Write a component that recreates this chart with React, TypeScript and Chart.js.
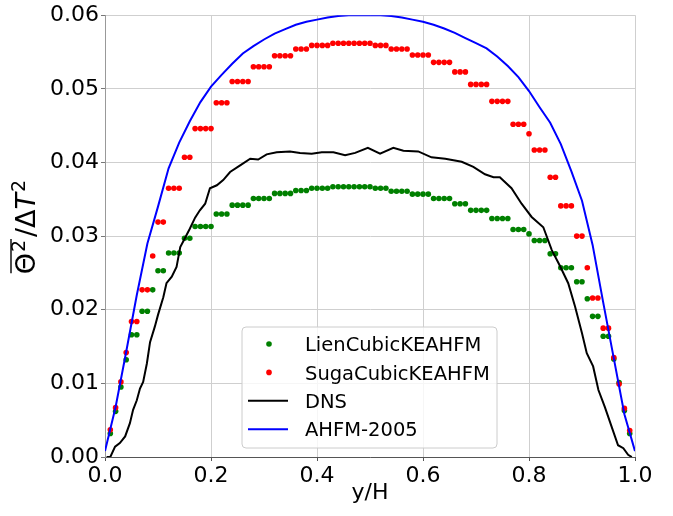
import React, { useEffect, useRef } from "react";
import { Chart, registerables } from "chart.js";

Chart.register(...registerables);

const FONT = "DejaVu Sans";

// Series labels
const seriesLabels = ["LienCubicKEAHFM", "SugaCubicKEAHFM", "DNS", "AHFM-2005"];

// y/H positions of the model dots
const dotX = [
  0.01, 0.02, 0.03, 0.04, 0.05, 0.06, 0.07, 0.08, 0.09, 0.1,
  0.11, 0.12, 0.13, 0.14, 0.15, 0.16, 0.17, 0.18, 0.19, 0.2,
  0.21, 0.22, 0.23, 0.24, 0.25, 0.26, 0.27, 0.28, 0.29, 0.3,
  0.31, 0.32, 0.33, 0.34, 0.35, 0.36, 0.37, 0.38, 0.39, 0.4,
  0.41, 0.42, 0.43, 0.44, 0.45, 0.46, 0.47, 0.48, 0.49, 0.5,
  0.51, 0.52, 0.53, 0.54, 0.55, 0.56, 0.57, 0.58, 0.59, 0.6,
  0.61, 0.62, 0.63, 0.64, 0.65, 0.66, 0.67, 0.68, 0.69, 0.7,
  0.71, 0.72, 0.73, 0.74, 0.75, 0.76, 0.77, 0.78, 0.79, 0.8,
  0.81, 0.82, 0.83, 0.84, 0.85, 0.86, 0.87, 0.88, 0.89, 0.9,
  0.91, 0.92, 0.93, 0.94, 0.95, 0.96, 0.97, 0.98, 0.99,
];

const lienValues = [
  0.0032, 0.0062, 0.0095, 0.0132, 0.0166, 0.0166, 0.0198, 0.0198, 0.0227, 0.0253,
  0.0253, 0.0277, 0.0277, 0.0277, 0.0297, 0.0297, 0.0313, 0.0313, 0.0313, 0.0313,
  0.033, 0.033, 0.033, 0.0342, 0.0342, 0.0342, 0.0342, 0.0351, 0.0351, 0.0351,
  0.0351, 0.0358, 0.0358, 0.0358, 0.0358, 0.0362, 0.0362, 0.0362, 0.0365, 0.0365,
  0.0365, 0.0365, 0.0367, 0.0367, 0.0367, 0.0367, 0.0367, 0.0367, 0.0367, 0.0367,
  0.0365, 0.0365, 0.0365, 0.0361, 0.0361, 0.0361, 0.0361, 0.0357, 0.0357, 0.0357,
  0.0357, 0.0351, 0.0351, 0.0351, 0.0351, 0.0344, 0.0344, 0.0344, 0.0335, 0.0335,
  0.0335, 0.0335, 0.0324, 0.0324, 0.0324, 0.0324, 0.0309, 0.0309, 0.0309, 0.0303,
  0.0294, 0.0294, 0.0294, 0.0276, 0.0276, 0.0257, 0.0257, 0.0257, 0.0238, 0.0238,
  0.0215, 0.0191, 0.0191, 0.0164, 0.0164, 0.0133, 0.0101, 0.0063, 0.0032,
];

const sugaValues = [
  0.0037, 0.0067, 0.0102, 0.0142, 0.0184, 0.0184, 0.0227, 0.0227, 0.0273, 0.0319,
  0.0319, 0.0365, 0.0365, 0.0365, 0.0407, 0.0407, 0.0446, 0.0446, 0.0446, 0.0446,
  0.0481, 0.0481, 0.0481, 0.051, 0.051, 0.051, 0.051, 0.053, 0.053, 0.053,
  0.053, 0.0545, 0.0545, 0.0545, 0.0545, 0.0554, 0.0554, 0.0554, 0.0559, 0.0559,
  0.0559, 0.0559, 0.0562, 0.0562, 0.0562, 0.0562, 0.0562, 0.0562, 0.0562, 0.0562,
  0.0559, 0.0559, 0.0559, 0.0554, 0.0554, 0.0554, 0.0554, 0.0546, 0.0546, 0.0546,
  0.0546, 0.0536, 0.0536, 0.0536, 0.0536, 0.0523, 0.0523, 0.0523, 0.0506, 0.0506,
  0.0506, 0.0506, 0.0483, 0.0483, 0.0483, 0.0483, 0.0452, 0.0452, 0.0452, 0.0439,
  0.0417, 0.0417, 0.0417, 0.038, 0.038, 0.0341, 0.0341, 0.0341, 0.03, 0.03,
  0.0257, 0.0216, 0.0216, 0.0175, 0.0175, 0.0135, 0.0099, 0.0066, 0.0036,
];

// DNS line
const dnsX = [
  0.003, 0.01, 0.019, 0.028, 0.038, 0.047, 0.053, 0.06, 0.066, 0.072,
  0.079, 0.085, 0.094, 0.1, 0.11, 0.116, 0.126, 0.135, 0.142, 0.15,
  0.16, 0.17, 0.179, 0.189, 0.198, 0.211, 0.223, 0.236, 0.255, 0.274,
  0.289, 0.305, 0.324, 0.349, 0.368, 0.39, 0.409, 0.431, 0.453, 0.472,
  0.496, 0.519, 0.544, 0.563, 0.591, 0.616, 0.642, 0.673, 0.695, 0.717,
  0.733, 0.745, 0.767, 0.786, 0.805, 0.827, 0.843, 0.858, 0.874, 0.887,
  0.9, 0.909, 0.921, 0.931, 0.943, 0.956, 0.968, 0.978, 0.987, 0.994,
];
const dnsValues = [
  0.0, 0.0, 0.0014, 0.0019, 0.0028, 0.0046, 0.0064, 0.0077, 0.0093, 0.0102,
  0.0127, 0.0156, 0.0177, 0.0193, 0.0217, 0.0236, 0.0245, 0.0258, 0.0285, 0.0296,
  0.031, 0.0325, 0.0335, 0.0344, 0.0365, 0.0369, 0.0376, 0.0387, 0.0396, 0.0405,
  0.0404, 0.0411, 0.0414, 0.0415, 0.0413, 0.0412, 0.0414, 0.0414, 0.041, 0.0413,
  0.042, 0.0412, 0.042, 0.0416, 0.0415, 0.0407, 0.0405, 0.0401, 0.0394, 0.0384,
  0.038, 0.038, 0.0365, 0.0344, 0.0326, 0.0312, 0.0281, 0.026, 0.0236, 0.0204,
  0.0168, 0.0141, 0.0123, 0.0091, 0.0068, 0.0041, 0.0016, 0.0012, 0.0003, 0.0,
];

// AHFM-2005 line
const ahfmX = [
  0.0, 0.02, 0.04, 0.06, 0.08, 0.1, 0.12, 0.14, 0.16, 0.18,
  0.2, 0.22, 0.24, 0.26, 0.28, 0.3, 0.32, 0.34, 0.36, 0.38,
  0.4, 0.42, 0.44, 0.46, 0.48, 0.5, 0.52, 0.54, 0.56, 0.58,
  0.6, 0.62, 0.64, 0.66, 0.68, 0.7, 0.72, 0.74, 0.76, 0.78,
  0.8, 0.82, 0.84, 0.86, 0.88, 0.9, 0.92, 0.94, 0.96, 0.98, 1.0,
];
const ahfmValues = [
  0.0008, 0.0068, 0.0143, 0.022, 0.029, 0.034, 0.0392, 0.0427, 0.0456, 0.0482,
  0.0503, 0.0519, 0.0534, 0.0548, 0.0558, 0.0567, 0.0575, 0.0581, 0.0587, 0.0591,
  0.0594, 0.0597, 0.0599, 0.06, 0.06, 0.06, 0.06, 0.0599, 0.0597, 0.0594,
  0.0591, 0.0587, 0.0582, 0.0576, 0.0569, 0.0562, 0.0555, 0.0544, 0.0531, 0.0516,
  0.0497, 0.0475, 0.0454, 0.0425, 0.0388, 0.0348, 0.0288, 0.021, 0.0134, 0.0058, 0.0008,
];

const pairs = (xs: number[], ys: number[]) => xs.map((x, i) => ({ x, y: ys[i] }));

const yTitlePlugin = {
  id: "yTitleMath",
  afterDraw(chart: any) {
    const ctx = chart.ctx as CanvasRenderingContext2D;
    const fs = 27;
    const sfs = 19;
    const cx = 35;
    const cy = (chart.chartArea.top + chart.chartArea.bottom) / 2 - 9;
    ctx.save();
    ctx.fillStyle = "#000";
    ctx.strokeStyle = "#000";
    ctx.textBaseline = "alphabetic";
    ctx.textAlign = "left";
    const main = `${fs}px "${FONT}"`;
    const sup = `${sfs}px "${FONT}"`;
    const ital = `italic ${fs}px "${FONT}"`;
    ctx.font = main;
    const wTheta = ctx.measureText("Θ").width;
    ctx.font = sup;
    const wSup = ctx.measureText("2").width;
    ctx.font = main;
    const wSlash = ctx.measureText("/").width;
    const wDelta = ctx.measureText("Δ").width;
    ctx.font = ital;
    const wT = ctx.measureText("T").width;
    const total = wTheta + 1 + wSup + 3 + wSlash + wDelta + wT + 1 + wSup;
    ctx.translate(cx, cy);
    ctx.rotate(-Math.PI / 2);
    let u = -total / 2;
    const u0 = u;
    ctx.font = main;
    ctx.fillText("Θ", u, 0);
    u += wTheta + 1;
    ctx.font = sup;
    ctx.fillText("2", u, -10);
    u += wSup;
    ctx.lineWidth = 1.4;
    ctx.beginPath();
    ctx.moveTo(u0 + 1, -24);
    ctx.lineTo(u + 1, -24);
    ctx.stroke();
    u += 3;
    ctx.font = main;
    ctx.fillText("/", u, 0);
    u += wSlash;
    ctx.fillText("Δ", u, 0);
    u += wDelta;
    ctx.font = ital;
    ctx.fillText("T", u, 0);
    u += wT + 1;
    ctx.font = sup;
    ctx.fillText("2", u, -10);
    ctx.restore();
  },
};

const legendPlugin = {
  id: "insideLegend",
  afterDraw(chart: any) {
    const ctx = chart.ctx as CanvasRenderingContext2D;
    const ds = chart.data.datasets;
    const bx = 242, by = 327, bw = 255, bh = 121, r = 4;
    ctx.save();
    ctx.beginPath();
    ctx.moveTo(bx + r, by);
    ctx.lineTo(bx + bw - r, by);
    ctx.arcTo(bx + bw, by, bx + bw, by + r, r);
    ctx.lineTo(bx + bw, by + bh - r);
    ctx.arcTo(bx + bw, by + bh, bx + bw - r, by + bh, r);
    ctx.lineTo(bx + r, by + bh);
    ctx.arcTo(bx, by + bh, bx, by + bh - r, r);
    ctx.lineTo(bx, by + r);
    ctx.arcTo(bx, by, bx + r, by, r);
    ctx.closePath();
    ctx.fillStyle = "rgba(255,255,255,0.8)";
    ctx.fill();
    ctx.strokeStyle = "#cccccc";
    ctx.lineWidth = 1;
    ctx.stroke();
    const fs = 19.5;
    ctx.font = `${fs}px "${FONT}"`;
    ctx.textBaseline = "alphabetic";
    ctx.textAlign = "left";
    const rowStart = 344;
    const rowGap = 28.4;
    ds.forEach((d: any, i: number) => {
      const yc = rowStart + i * rowGap;
      if (d.showLine) {
        ctx.strokeStyle = d.borderColor;
        ctx.lineWidth = d.borderWidth;
        ctx.beginPath();
        ctx.moveTo(248, yc);
        ctx.lineTo(288, yc);
        ctx.stroke();
      } else {
        ctx.fillStyle = d.backgroundColor;
        ctx.beginPath();
        ctx.arc(269, yc, d.pointRadius, 0, Math.PI * 2);
        ctx.fill();
      }
      ctx.fillStyle = "#000";
      ctx.fillText(d.label, 305, yc + 0.729 * fs / 2);
    });
    ctx.restore();
  },
};

export default function App() {
  const ref = useRef<HTMLCanvasElement | null>(null);
  useEffect(() => {
    if (!ref.current) return;
    const tickFont = { family: FONT, size: 22 };
    const chart = new Chart(ref.current, {
      type: "scatter",
      data: {
        datasets: [
          {
            label: seriesLabels[0],
            data: pairs(dotX, lienValues),
            showLine: false,
            pointRadius: 2.8,
            pointHoverRadius: 2.8,
            backgroundColor: "#008000",
            borderWidth: 0,
            order: 4,
          },
          {
            label: seriesLabels[1],
            data: pairs(dotX, sugaValues),
            showLine: false,
            pointRadius: 2.8,
            pointHoverRadius: 2.8,
            backgroundColor: "#ff0000",
            borderWidth: 0,
            order: 3,
          },
          {
            label: seriesLabels[2],
            data: pairs(dnsX, dnsValues),
            showLine: true,
            pointRadius: 0,
            borderColor: "#000000",
            backgroundColor: "#000000",
            borderWidth: 2,
            tension: 0,
            order: 2,
          },
          {
            label: seriesLabels[3],
            data: pairs(ahfmX, ahfmValues),
            showLine: true,
            pointRadius: 0,
            borderColor: "#0000ff",
            backgroundColor: "#0000ff",
            borderWidth: 2,
            tension: 0,
            order: 1,
          },
        ] as any,
      },
      options: {
        animation: false,
        responsive: false,
        maintainAspectRatio: false,
        devicePixelRatio: 1,
        layout: { padding: { left: 0, right: 38, top: 15, bottom: 0 } },
        plugins: {
          legend: { display: false },
          tooltip: { enabled: false },
        },
        scales: {
          x: {
            type: "linear",
            min: 0,
            max: 1,
            ticks: {
              stepSize: 0.2,
              font: tickFont,
              color: "#000",
              padding: 2,
              maxRotation: 0,
              callback: (v: any) => Number(v).toFixed(1),
            },
            grid: { color: "#cfcfcf", lineWidth: 1, tickLength: 4, tickColor: "#555" },
            border: { color: "#555", width: 1 },
            title: {
              display: true,
              text: "y/H",
              font: { family: FONT, size: 22 },
              color: "#000",
              padding: { top: 0, bottom: 10 },
            },
            afterFit: (s: any) => {
              s.height = 59;
            },
          },
          y: {
            type: "linear",
            min: 0,
            max: 0.06,
            ticks: {
              stepSize: 0.01,
              font: tickFont,
              color: "#000",
              padding: 2,
              callback: (v: any) => Number(v).toFixed(2),
            },
            grid: { color: "#cfcfcf", lineWidth: 1, tickLength: 4, tickColor: "#777" },
            border: { color: "#999", width: 1 },
            afterFit: (s: any) => {
              s.width = 105;
            },
          },
        },
      } as any,
      plugins: [yTitlePlugin, legendPlugin],
    });
    return () => chart.destroy();
  }, []);
  return (
    <div style={{ position: "absolute", left: 0, top: 0, width: 673, height: 516, background: "#fff" }}>
      <canvas ref={ref} width={673} height={516} style={{ display: "block" }} />
    </div>
  );
}
